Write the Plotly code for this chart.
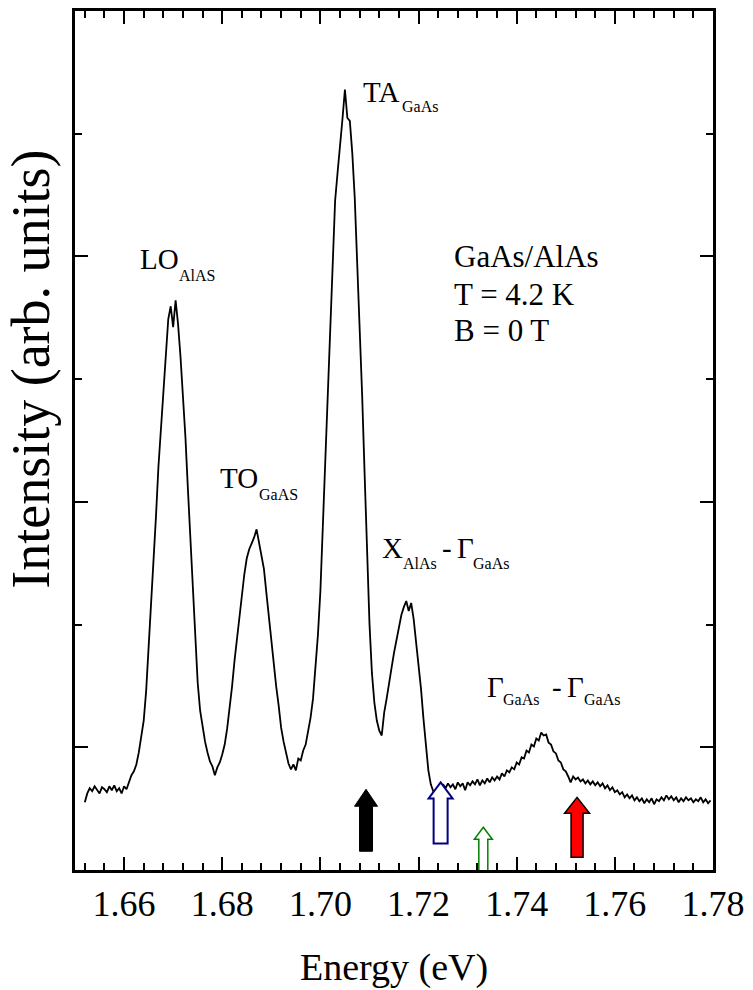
import numpy as np
import plotly.graph_objects as go

# Photoluminescence spectrum of a GaAs/AlAs structure, T = 4.2 K, B = 0 T
# Sampling grid: 1.652 eV to 1.7795 eV in 0.5 meV steps
e_start = 1.652
e_step = 0.0005
intensity = [
    276, 312, 333, 321, 341, 325, 312, 337, 329, 317,
    341, 325, 345, 321, 333, 312, 341, 329, 357, 386,
    402, 430, 479, 536, 609, 730, 901, 1088, 1258, 1441,
    1643, 1798, 1976, 2118, 2244, 2297, 2212, 2321, 2224, 2090,
    1932, 1765, 1554, 1351, 1148, 941, 763, 649, 580, 523,
    479, 442, 422, 386, 418, 438, 471, 511, 576, 657,
    747, 852, 941, 1031, 1128, 1205, 1270, 1307, 1331, 1355,
    1388, 1331, 1290, 1226, 1128, 1027, 925, 832, 747, 670,
    580, 523, 475, 434, 410, 430, 406, 454, 446, 487,
    511, 560, 621, 698, 812, 958, 1136, 1408, 1684, 1940,
    2252, 2516, 2727, 2841, 2942, 3060, 3180, 3064, 3052, 2922,
    2739, 2483, 2224, 1940, 1623, 1266, 1006, 803, 682, 609,
    568, 548, 641, 698, 771, 824, 885, 933, 994, 1039,
    1071, 1096, 1055, 1088, 1023, 933, 844, 739, 617, 495,
    406, 349, 321, 312, 337, 325, 349, 333, 353, 337,
    349, 329, 357, 341, 353, 325, 357, 345, 361, 349,
    369, 345, 365, 353, 373, 357, 377, 365, 381, 369,
    394, 381, 406, 398, 418, 410, 438, 430, 459, 454,
    487, 479, 511, 503, 536, 528, 560, 548, 552, 519,
    511, 483, 475, 446, 438, 410, 402, 381, 357, 381,
    369, 377, 361, 369, 353, 365, 349, 361, 345, 357,
    341, 353, 333, 345, 325, 337, 317, 325, 308, 317,
    296, 308, 292, 304, 284, 296, 280, 292, 272, 288,
    276, 292, 268, 288, 280, 296, 284, 304, 288, 300,
    284, 296, 276, 292, 280, 296, 284, 292, 276, 288,
    280, 296, 276, 288, 272, 284,
]
energy = np.round(e_start + e_step * np.arange(len(intensity)), 4)

# Marked transition energies (arrows) and the intensity at the arrow tips
arrow_energy = [1.7093, 1.7245, 1.7332, 1.7523]
arrow_tip = [329, 357, 174, 296]

# Peak labels: (main text, subscript, energy of left edge, baseline intensity)
peak_labels = [
    ("LO", None, 1.66276, 2444),
    (None, "AlAS", 1.67086, 2396),
    ("TO", None, 1.67916, 1555),
    (None, "GaAS", 1.68706, 1506),
    ("TA", None, 1.70832, 3126),
    (None, "GaAs", 1.71622, 3086),
    ("X", None, 1.71217, 1267),
    (None, "AlAs", 1.71642, 1226),
    ("-", None, 1.72432, 1267),
    ("Γ", None, 1.72736, 1267),
    (None, "GaAs", 1.73060, 1226),
    ("Γ", None, 1.73363, 702),
    (None, "GaAs", 1.73687, 670),
    ("-", None, 1.74680, 702),
    ("Γ", None, 1.74983, 702),
    (None, "GaAs", 1.75328, 670),
]
info_lines = ["GaAs/AlAs", "T = 4.2 K", "B = 0 T"]
info_energy = 1.72695
info_baseline = [2452, 2298, 2152]

FONT = "Liberation Serif"

fig = go.Figure()
fig.add_trace(go.Scatter(
    x=energy, y=intensity, mode="lines",
    line=dict(color="black", width=1.8),
    showlegend=False, hoverinfo="skip",
))

# Block arrows drawn in pixel units, anchored at their tips in data space
arrow_styles = [
    dict(fill="black", line="black", lw=1.0, hw=11.5, sw=6.5, hh=17, L=62),
    dict(fill="white", line="#000080", lw=2.0, hw=12, sw=7, hh=16, L=61),
    dict(fill="white", line="#008000", lw=1.5, hw=9, sw=4.5, hh=12, L=47),
    dict(fill="#ff0000", line="black", lw=1.5, hw=12.5, sw=6, hh=16, L=60),
]
for e, c, st in zip(arrow_energy, arrow_tip, arrow_styles):
    hw, sw, hh, L = st["hw"], st["sw"], st["hh"], st["L"]
    path = (f"M 0 0 L {hw} {-hh} L {sw} {-hh} L {sw} {-L} "
            f"L {-sw} {-L} L {-sw} {-hh} L {-hw} {-hh} Z")
    fig.add_shape(
        type="path", xref="x", yref="y",
        xsizemode="pixel", ysizemode="pixel",
        xanchor=e, yanchor=c, path=path,
        fillcolor=st["fill"], line=dict(color=st["line"], width=st["lw"]),
    )


def add_text(text, x, y, size, pad=1):
    # place text with its left edge at x and its baseline at y
    fig.add_annotation(
        x=x, y=y, xref="x", yref="y", text=text, showarrow=False,
        xanchor="left", yanchor="bottom", yshift=-(0.216 * size + pad),
        borderpad=pad,
        font=dict(family=FONT, size=size, color="black"),
    )


for main, sub, x, y in peak_labels:
    if main is not None:
        add_text(main, x, y, 29)
    else:
        add_text(sub, x, y, 16)

for line, y in zip(info_lines, info_baseline):
    add_text(line, info_energy, y, 31, pad=0)

# Axis titles
fig.add_annotation(
    x=0.5, y=-0.113, xref="paper", yref="paper", text="Energy (eV)",
    showarrow=False, xanchor="center", yanchor="middle",
    font=dict(family=FONT, size=38, color="black"),
)
fig.add_annotation(
    x=-0.068, y=0.583, xref="paper", yref="paper", text="Intensity (arb. units)",
    showarrow=False, xanchor="center", yanchor="middle", textangle=-90,
    font=dict(family=FONT, size=54, color="black"),
)

fig.update_layout(
    width=753, height=990,
    margin=dict(l=75, r=36, t=8, b=120),
    paper_bgcolor="white", plot_bgcolor="white",
    font=dict(family=FONT, color="black"),
    xaxis=dict(
        range=[1.65, 1.78], tick0=1.66, dtick=0.02, tickformat=".2f",
        ticks="inside", ticklen=13, tickwidth=2, tickcolor="black",
        minor=dict(dtick=0.004, ticks="inside", ticklen=7, tickwidth=2, tickcolor="black"),
        showline=True, linewidth=2.5, linecolor="black", mirror="ticks",
        showgrid=False, zeroline=False,
        tickfont=dict(family=FONT, size=36, color="black"),
    ),
    yaxis=dict(
        range=[0, 3500], tick0=500, dtick=1000,
        ticks="inside", ticklen=13, tickwidth=2, tickcolor="black",
        minor=dict(dtick=500, ticks="inside", ticklen=7, tickwidth=2, tickcolor="black"),
        showline=True, linewidth=2.5, linecolor="black", mirror="ticks",
        showgrid=False, zeroline=False, showticklabels=False,
    ),
)

fig.write_html("out.html")
